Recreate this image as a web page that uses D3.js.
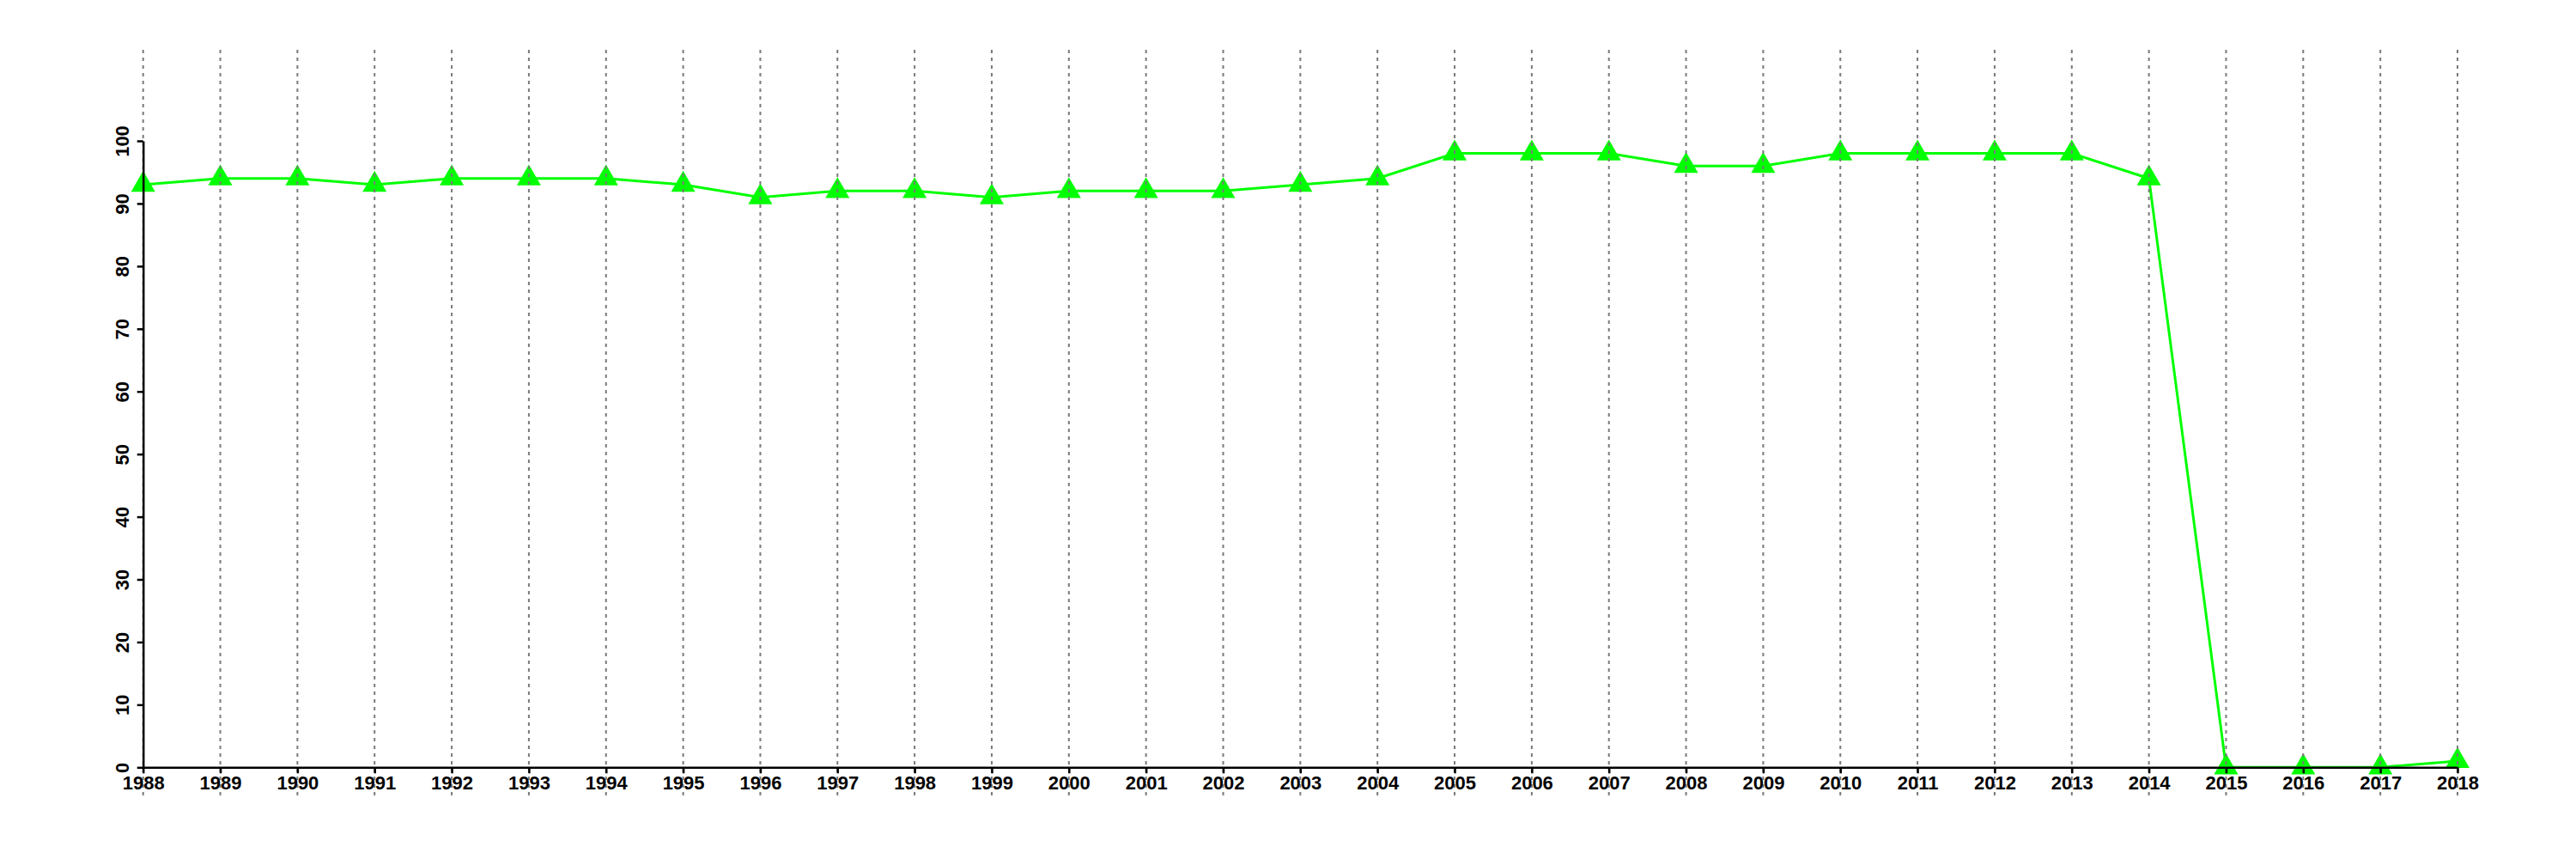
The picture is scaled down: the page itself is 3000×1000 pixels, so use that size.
<!DOCTYPE html>
<html>
<head>
<meta charset="utf-8">
<script src="https://cdn.jsdelivr.net/npm/d3@7"></script>
<style>
  html, body { margin: 0; padding: 0; background: #fff; }
  svg { display: block; }
  text { font-family: "Liberation Sans", Arial, Helvetica, sans-serif; font-weight: bold; fill: #000; }
</style>
</head>
<body>
<svg id="chart" width="3000" height="1000"></svg>
<script>
const years = [1988,1989,1990,1991,1992,1993,1994,1995,1996,1997,1998,1999,2000,2001,2002,2003,2004,2005,2006,2007,2008,2009,2010,2011,2012,2013,2014,2015,2016,2017,2018];
const values = [93,94,94,93,94,94,94,93,91,92,92,91,92,92,92,93,94,98,98,98,96,96,98,98,98,98,94,0,0,0,1];
const yTicks = [0,10,20,30,40,50,60,70,80,90,100];

const svg = d3.select("#chart");
const x = d3.scaleLinear().domain([1988, 2018]).range([166.7, 2862]);
const y = d3.scaleLinear().domain([0, 100]).range([893.3, 164]);

const data = years.map((yr, i) => ({ yr, v: values[i] }));

// line
svg.append("path")
  .datum(data)
  .attr("fill", "none")
  .attr("stroke", "#00ff00")
  .attr("stroke-width", 3)
  .attr("d", d3.line().x(d => x(d.yr)).y(d => y(d.v)));

// triangles
svg.append("g").selectAll("path")
  .data(data)
  .join("path")
  .attr("transform", d => `translate(${x(d.yr)},${y(d.v)})`)
  .attr("d", d3.symbol().type(d3.symbolTriangle).size(340))
  .attr("fill", "#00ff00");

// vertical dotted grid lines
svg.append("g").selectAll("line")
  .data(years)
  .join("line")
  .attr("x1", d => x(d)).attr("x2", d => x(d))
  .attr("y1", 58).attr("y2", 928)
  .attr("stroke", "#7a7a7a")
  .attr("stroke-width", 2)
  .attr("stroke-dasharray", "4,5");

// y axis
const yAxis = svg.append("g")
  .attr("transform", `translate(${x(1988)},0)`)
  .call(d3.axisLeft(y).tickValues(yTicks).tickSize(7).tickSizeOuter(0).tickPadding(9));
yAxis.select(".domain").attr("stroke", "#000").attr("stroke-width", 2.5);
yAxis.selectAll(".tick line").attr("stroke", "#000").attr("stroke-width", 2.5);
yAxis.selectAll(".tick text")
  .attr("font-size", 22)
  .attr("x", 0).attr("dy", null)
  .attr("text-anchor", "middle")
  .attr("transform", "translate(-17,0) rotate(-90)");

// x axis
const xAxis = svg.append("g")
  .attr("transform", `translate(0,${y(0)})`)
  .call(d3.axisBottom(x).tickValues(years).tickFormat(d3.format("d")).tickSize(7).tickSizeOuter(0).tickPadding(3));
xAxis.select(".domain").attr("stroke", "#000").attr("stroke-width", 2.5);
xAxis.selectAll(".tick line").attr("stroke", "#000").attr("stroke-width", 2.5);
xAxis.selectAll(".tick text").attr("font-size", 22);
</script>
</body>
</html>
